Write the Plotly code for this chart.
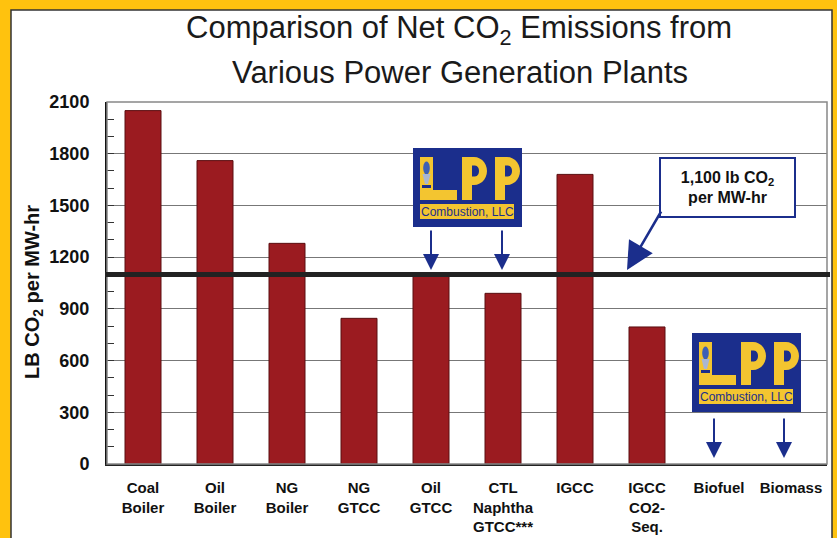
import math
import plotly.graph_objects as go

categories = ["Coal<br>Boiler", "Oil<br>Boiler", "NG<br>Boiler", "NG<br>GTCC", "Oil<br>GTCC",
              "CTL<br>Naphtha<br>GTCC***", "IGCC", "IGCC<br>CO2-<br>Seq.", "Biofuel", "Biomass"]
emissions = [2050, 1760, 1280, 845, 1090, 990, 1680, 795, 0, 0]
threshold = 1100
y_ticks = [0, 300, 600, 900, 1200, 1500, 1800, 2100]

BAR = "#9B1B20"
BLUE = "#1B2E8C"
LOGO_Y = "#F3C530"
FRAME_Y = "#FFC20E"

W, H = 837, 538
L_, R_, T_, B_ = 107, 10, 102, 74
PW = W - L_ - R_
PH = H - T_ - B_

def X(px):
    return (px - L_) / PW

def Y(py):
    return (H - B_ - py) / PH

fig = go.Figure()
fig.add_trace(go.Bar(x=categories, y=emissions, width=0.5,
                     marker=dict(color=BAR,
                                 line=dict(color="#5A0E10",
                                           width=[1 if v > 0 else 0 for v in emissions]))))

shapes = []
annotations = []

# white inner frame
shapes.append(dict(type="rect", xref="paper", yref="paper", layer="below",
                   x0=X(11), x1=X(832), y0=Y(560), y1=Y(10),
                   fillcolor="white", line=dict(color="#333333", width=1.5)))
# plot border
shapes.append(dict(type="rect", xref="paper", yref="paper", x0=0, x1=1, y0=0, y1=1,
                   line=dict(color="#888888", width=1.5)))
# threshold line
shapes.append(dict(type="line", xref="paper", yref="y", x0=X(105), x1=X(830),
                   y0=threshold, y1=threshold, line=dict(color="#222222", width=5)))


def poly(points, ox, oy):
    s = ""
    for i, (a, b) in enumerate(points):
        s += ("M" if i == 0 else "L") + f"{X(ox + a):.5f},{Y(oy + b):.5f} "
    return s + "Z "


def arc_pts(cx, cy, rx, ry, a0, a1, n=14):
    pts = []
    for k in range(n + 1):
        t = math.radians(a0 + (a1 - a0) * k / n)
        pts.append((cx + rx * math.cos(t), cy + ry * math.sin(t)))
    return pts


def text_ann(px, py, text, font, **kw):
    d = dict(xref="paper", yref="paper", x=X(px), y=Y(py), text=text, showarrow=False,
             xanchor="center", yanchor="middle", font=font)
    d.update(kw)
    annotations.append(d)


def logo(bx, by):
    shapes.append(dict(type="rect", xref="paper", yref="paper",
                       x0=X(bx), x1=X(bx + 109), y0=Y(by + 79), y1=Y(by),
                       fillcolor=BLUE, line=dict(width=0)))
    lp = [(0, 0), (13, 0), (13, 33), (37, 33), (37, 43), (0, 43)]
    shapes.append(dict(type="path", xref="paper", yref="paper",
                       path=poly(lp, bx + 7, by + 9), fillcolor=LOGO_Y, line=dict(width=0)))
    # torch icon in the L
    shapes.append(dict(type="path", xref="paper", yref="paper",
                       path=poly(arc_pts(6.5, 11, 3.3, 6.5, 0, 360, 20), bx + 7, by + 9),
                       fillcolor="#3D5FB5", line=dict(width=0)))
    shapes.append(dict(type="path", xref="paper", yref="paper",
                       path=poly([(2.5, 17), (10.5, 17), (8, 27), (5, 27)], bx + 7, by + 9),
                       fillcolor="#A9B6D0", line=dict(width=0)))
    shapes.append(dict(type="path", xref="paper", yref="paper",
                       path=poly([(2, 28), (11, 28), (11, 31), (2, 31)], bx + 7, by + 9),
                       fillcolor=BLUE, line=dict(width=0)))
    for px0 in (49, 82):
        outer = [(0, 0), (12, 0)] + arc_pts(12, 14, 13, 14, -90, 90) + [(10, 28), (10, 43), (0, 43)]
        inner = [(10, 8.5), (13, 8.5)] + arc_pts(13, 14, 4, 5.5, -90, 90) + [(10, 19.5)]
        shapes.append(dict(type="path", xref="paper", yref="paper",
                           path=poly(outer, bx + px0, by + 9) + poly(inner, bx + px0, by + 9),
                           fillrule="evenodd", fillcolor=LOGO_Y, line=dict(width=0)))
    shapes.append(dict(type="rect", xref="paper", yref="paper",
                       x0=X(bx + 7), x1=X(bx + 101), y0=Y(by + 71), y1=Y(by + 56),
                       fillcolor=LOGO_Y, line=dict(width=0)))
    text_ann(bx + 54, by + 63.5, "Combustion, LLC",
             dict(family="Liberation Sans, Arial", size=12, color=BLUE))


def down_arrow(px, py_tail, py_tip):
    annotations.append(dict(xref="paper", yref="paper", x=X(px), y=Y(py_tip), text="",
                            showarrow=True, axref="pixel", ayref="pixel", ax=0,
                            ay=-(py_tip - py_tail), arrowhead=2, arrowsize=1.6,
                            arrowwidth=2, arrowcolor=BLUE))


logo(413, 148)
logo(692, 333)
down_arrow(431, 229, 270)
down_arrow(502, 229, 270)
down_arrow(714, 417, 458)
down_arrow(784, 417, 458)

# threshold callout
text_ann(727.5, 187.5, "<b>1,100 lb CO<sub>2</sub></b><br><b>per MW-hr</b>",
         dict(family="Liberation Sans, Arial", size=16, color="#111111"),
         bgcolor="white", bordercolor=BLUE, borderwidth=2, width=131, height=55, align="center")
annotations.append(dict(xref="paper", yref="paper", x=X(627), y=Y(270), text="",
                        showarrow=True, axref="pixel", ayref="pixel", ax=35, ay=-60,
                        arrowhead=2, arrowsize=2.2, arrowwidth=2.5, arrowcolor=BLUE))

# title lines
TF = dict(family="Liberation Sans, Arial", size=31, color="#1A1A1A")
text_ann(459, 30, "Comparison of Net CO<sub>2</sub> Emissions from", TF)
text_ann(460, 72, "Various Power Generation Plants", TF)
# y title
text_ann(33, 292, "<b>LB CO<sub>2</sub> per MW-hr</b>",
         dict(family="Liberation Sans, Arial", size=20, color="#111111"), textangle=-90)

fig.update_layout(
    width=W, height=H,
    margin=dict(l=L_, r=R_, t=T_, b=B_, autoexpand=False),
    paper_bgcolor=FRAME_Y, plot_bgcolor="white",
    showlegend=False,
    shapes=shapes, annotations=annotations,
    font=dict(family="Liberation Sans, Arial", color="#111111"),
)
fig.update_yaxes(range=[0, 2100], tickvals=y_ticks, showgrid=True, gridcolor="#777777", gridwidth=1,
                 showline=True, linecolor="#111111", linewidth=2, automargin=False,
                 ticks="inside", ticklen=7, tickcolor="#333333",
                 minor=dict(dtick=100, ticks="inside", ticklen=7, tickcolor="#333333", showgrid=False),
                 tickfont=dict(size=18, weight="bold", color="#111111"),
                 ticklabelstandoff=12, zeroline=False)
fig.update_xaxes(showline=True, linecolor="#222222", linewidth=2, ticks="", automargin=False,
                 tickfont=dict(size=15, weight="bold", color="#111111"),
                 ticklabelstandoff=9)

fig.write_html("out.html", config={"displayModeBar": False},
               post_script="document.body.style.margin='0';")
